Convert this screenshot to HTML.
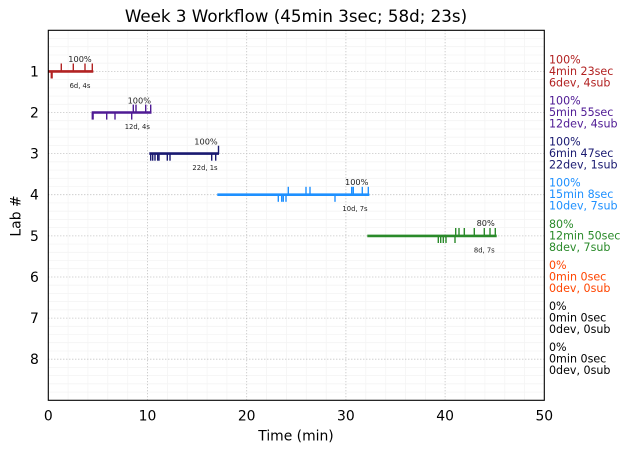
<!DOCTYPE html>
<html><head><meta charset="utf-8"><style>
html,body{margin:0;padding:0;background:#fff;}
svg{display:block;font-family:"DejaVu Sans","Liberation Sans",sans-serif;}
</style></head><body>
<svg width="630" height="453" viewBox="0 0 630 453" xmlns="http://www.w3.org/2000/svg">
<rect width="630" height="453" fill="#fff"/>
<!-- minor grid -->
<g stroke="#f4f4f4" stroke-width="0.8">
<line x1="68.1" y1="30.3" x2="68.1" y2="400.3"/><line x1="87.9" y1="30.3" x2="87.9" y2="400.3"/><line x1="107.8" y1="30.3" x2="107.8" y2="400.3"/><line x1="127.7" y1="30.3" x2="127.7" y2="400.3"/>
<line x1="167.4" y1="30.3" x2="167.4" y2="400.3"/><line x1="187.2" y1="30.3" x2="187.2" y2="400.3"/><line x1="207.1" y1="30.3" x2="207.1" y2="400.3"/><line x1="226.9" y1="30.3" x2="226.9" y2="400.3"/>
<line x1="266.6" y1="30.3" x2="266.6" y2="400.3"/><line x1="286.4" y1="30.3" x2="286.4" y2="400.3"/><line x1="306.3" y1="30.3" x2="306.3" y2="400.3"/><line x1="326.2" y1="30.3" x2="326.2" y2="400.3"/>
<line x1="365.8" y1="30.3" x2="365.8" y2="400.3"/><line x1="385.7" y1="30.3" x2="385.7" y2="400.3"/><line x1="405.5" y1="30.3" x2="405.5" y2="400.3"/><line x1="425.4" y1="30.3" x2="425.4" y2="400.3"/>
<line x1="465.1" y1="30.3" x2="465.1" y2="400.3"/><line x1="484.9" y1="30.3" x2="484.9" y2="400.3"/><line x1="504.8" y1="30.3" x2="504.8" y2="400.3"/><line x1="524.6" y1="30.3" x2="524.6" y2="400.3"/>
</g>
<g stroke="#f4f4f4" stroke-width="0.8">
<line x1="48.3" x2="544.3" y1="38.5" y2="38.5"/><line x1="48.3" x2="544.3" y1="46.7" y2="46.7"/><line x1="48.3" x2="544.3" y1="55.0" y2="55.0"/><line x1="48.3" x2="544.3" y1="63.2" y2="63.2"/>
<line x1="48.3" x2="544.3" y1="79.6" y2="79.6"/><line x1="48.3" x2="544.3" y1="87.9" y2="87.9"/><line x1="48.3" x2="544.3" y1="96.1" y2="96.1"/><line x1="48.3" x2="544.3" y1="104.3" y2="104.3"/>
<line x1="48.3" x2="544.3" y1="120.7" y2="120.7"/><line x1="48.3" x2="544.3" y1="129.0" y2="129.0"/><line x1="48.3" x2="544.3" y1="137.2" y2="137.2"/><line x1="48.3" x2="544.3" y1="145.4" y2="145.4"/>
<line x1="48.3" x2="544.3" y1="161.8" y2="161.8"/><line x1="48.3" x2="544.3" y1="170.1" y2="170.1"/><line x1="48.3" x2="544.3" y1="178.3" y2="178.3"/><line x1="48.3" x2="544.3" y1="186.5" y2="186.5"/>
<line x1="48.3" x2="544.3" y1="202.9" y2="202.9"/><line x1="48.3" x2="544.3" y1="211.2" y2="211.2"/><line x1="48.3" x2="544.3" y1="219.4" y2="219.4"/><line x1="48.3" x2="544.3" y1="227.6" y2="227.6"/>
<line x1="48.3" x2="544.3" y1="244.1" y2="244.1"/><line x1="48.3" x2="544.3" y1="252.3" y2="252.3"/><line x1="48.3" x2="544.3" y1="260.5" y2="260.5"/><line x1="48.3" x2="544.3" y1="268.7" y2="268.7"/>
<line x1="48.3" x2="544.3" y1="285.2" y2="285.2"/><line x1="48.3" x2="544.3" y1="293.4" y2="293.4"/><line x1="48.3" x2="544.3" y1="301.6" y2="301.6"/><line x1="48.3" x2="544.3" y1="309.8" y2="309.8"/>
<line x1="48.3" x2="544.3" y1="326.3" y2="326.3"/><line x1="48.3" x2="544.3" y1="334.5" y2="334.5"/><line x1="48.3" x2="544.3" y1="342.7" y2="342.7"/><line x1="48.3" x2="544.3" y1="351.0" y2="351.0"/>
<line x1="48.3" x2="544.3" y1="367.4" y2="367.4"/><line x1="48.3" x2="544.3" y1="375.6" y2="375.6"/><line x1="48.3" x2="544.3" y1="383.8" y2="383.8"/><line x1="48.3" x2="544.3" y1="392.1" y2="392.1"/>
</g>
<!-- major grid -->
<g stroke="#b0b0b0" stroke-width="0.8" stroke-dasharray="1,2">
<line x1="147.5" y1="30.3" x2="147.5" y2="400.3"/><line x1="246.7" y1="30.3" x2="246.7" y2="400.3"/><line x1="345.9" y1="30.3" x2="345.9" y2="400.3"/><line x1="445.1" y1="30.3" x2="445.1" y2="400.3"/>
<line x1="48.3" x2="544.3" y1="71.4" y2="71.4"/><line x1="48.3" x2="544.3" y1="112.5" y2="112.5"/><line x1="48.3" x2="544.3" y1="153.6" y2="153.6"/><line x1="48.3" x2="544.3" y1="194.7" y2="194.7"/>
<line x1="48.3" x2="544.3" y1="235.9" y2="235.9"/><line x1="48.3" x2="544.3" y1="277.0" y2="277.0"/><line x1="48.3" x2="544.3" y1="318.1" y2="318.1"/><line x1="48.3" x2="544.3" y1="359.2" y2="359.2"/>
</g>

<!-- Lab 1 -->
<g stroke="#b22222" fill="none">
<line x1="48.3" y1="71.4" x2="93.3" y2="71.4" stroke-width="2.6"/>
<g stroke-width="1.4">
<line x1="61.3" y1="63.5" x2="61.3" y2="71.4"/><line x1="73.3" y1="63.5" x2="73.3" y2="71.4"/><line x1="85" y1="63.5" x2="85" y2="71.4"/><line x1="92.3" y1="63.5" x2="92.3" y2="71.4"/>
<line x1="51.7" y1="71.4" x2="51.7" y2="78.5" stroke-width="2.2"/>
</g></g>
<!-- Lab 2 -->
<g stroke="#4f1a94" fill="none">
<line x1="91.7" y1="112.5" x2="151.5" y2="112.5" stroke-width="2.6"/>
<g stroke-width="1.4">
<line x1="133.3" y1="104.6" x2="133.3" y2="112.5"/><line x1="136" y1="104.6" x2="136" y2="112.5"/><line x1="145.7" y1="104.6" x2="145.7" y2="112.5"/><line x1="150.7" y1="104.6" x2="150.7" y2="112.5"/>
<line x1="92.7" y1="112.5" x2="92.7" y2="119.6" stroke-width="2.2"/><line x1="106.7" y1="112.5" x2="106.7" y2="119.6"/><line x1="115" y1="112.5" x2="115" y2="119.6"/><line x1="131.7" y1="112.5" x2="131.7" y2="119.6"/>
</g></g>
<!-- Lab 3 -->
<g stroke="#191970" fill="none">
<line x1="149.3" y1="153.6" x2="219" y2="153.6" stroke-width="2.6"/>
<g stroke-width="1.4">
<line x1="218.5" y1="145.7" x2="218.5" y2="153.6"/>
<line x1="150.7" y1="153.6" x2="150.7" y2="160.7"/><line x1="152.7" y1="153.6" x2="152.7" y2="160.7"/><line x1="155" y1="153.6" x2="155" y2="160.7"/><line x1="157.7" y1="153.6" x2="157.7" y2="160.7"/><line x1="159" y1="153.6" x2="159" y2="160.7"/>
<line x1="167.3" y1="153.6" x2="167.3" y2="160.7"/><line x1="170" y1="153.6" x2="170" y2="160.7"/><line x1="211.7" y1="153.6" x2="211.7" y2="160.7"/><line x1="215.7" y1="153.6" x2="215.7" y2="160.7"/>
</g></g>
<!-- Lab 4 -->
<g stroke="#1e90ff" fill="none">
<line x1="217.3" y1="194.7" x2="369.3" y2="194.7" stroke-width="2.6"/>
<g stroke-width="1.4">
<line x1="288.3" y1="186.8" x2="288.3" y2="194.7"/><line x1="306" y1="186.8" x2="306" y2="194.7"/><line x1="310" y1="186.8" x2="310" y2="194.7"/><line x1="351.7" y1="186.8" x2="351.7" y2="194.7"/><line x1="353.3" y1="186.8" x2="353.3" y2="194.7"/><line x1="362.3" y1="186.8" x2="362.3" y2="194.7"/><line x1="368.3" y1="186.8" x2="368.3" y2="194.7"/>
<line x1="278.3" y1="194.7" x2="278.3" y2="201.8"/><line x1="281.7" y1="194.7" x2="281.7" y2="201.8"/><line x1="283.3" y1="194.7" x2="283.3" y2="201.8"/><line x1="286" y1="194.7" x2="286" y2="201.8"/><line x1="335" y1="194.7" x2="335" y2="201.8"/>
</g></g>
<!-- Lab 5 -->
<g stroke="#2a8a2a" fill="none">
<line x1="367.3" y1="235.9" x2="496.7" y2="235.9" stroke-width="2.6"/>
<g stroke-width="1.4">
<line x1="455.7" y1="228" x2="455.7" y2="235.9"/><line x1="459" y1="228" x2="459" y2="235.9"/><line x1="464.3" y1="228" x2="464.3" y2="235.9"/><line x1="474.3" y1="228" x2="474.3" y2="235.9"/><line x1="484.3" y1="228" x2="484.3" y2="235.9"/><line x1="490" y1="228" x2="490" y2="235.9"/><line x1="495.3" y1="228" x2="495.3" y2="235.9"/>
<line x1="438.3" y1="235.9" x2="438.3" y2="243"/><line x1="440.7" y1="235.9" x2="440.7" y2="243"/><line x1="443.3" y1="235.9" x2="443.3" y2="243"/><line x1="446" y1="235.9" x2="446" y2="243"/><line x1="455" y1="235.9" x2="455" y2="243"/>
</g></g>

<!-- annotations -->
<g fill="#222" text-anchor="middle">
<text x="80" y="62.2" font-size="8.2">100%</text>
<text x="80" y="87.8" font-size="6.8">6d, 4s</text>
<text x="139.3" y="103.5" font-size="8.2">100%</text>
<text x="137.3" y="129.2" font-size="6.8">12d, 4s</text>
<text x="206" y="144.6" font-size="8.2">100%</text>
<text x="205" y="170.2" font-size="6.8">22d, 1s</text>
<text x="356.7" y="185.2" font-size="8.2">100%</text>
<text x="355" y="211.2" font-size="6.8">10d, 7s</text>
<text x="485.7" y="226.2" font-size="8.2">80%</text>
<text x="484.3" y="252.6" font-size="6.8">8d, 7s</text>
</g>

<!-- frame -->
<rect x="48.3" y="30.3" width="496" height="370" fill="none" stroke="#000" stroke-width="1.1"/>

<!-- tick labels -->
<g font-size="13.9" fill="#000" text-anchor="end">
<text x="38.8" y="76.4">1</text><text x="38.8" y="117.5">2</text><text x="38.8" y="158.6">3</text><text x="38.8" y="199.7">4</text>
<text x="38.8" y="240.9">5</text><text x="38.8" y="282">6</text><text x="38.8" y="323.1">7</text><text x="38.8" y="364.2">8</text>
</g>
<g font-size="13.9" fill="#000" text-anchor="middle">
<text x="48.3" y="420.7">0</text><text x="147.5" y="420.7">10</text><text x="246.7" y="420.7">20</text><text x="345.9" y="420.7">30</text><text x="445.1" y="420.7">40</text><text x="544.3" y="420.7">50</text>
</g>
<text x="296" y="440.5" font-size="13.9" text-anchor="middle">Time (min)</text>
<text transform="translate(20.5,216) rotate(-90)" font-size="13.9" text-anchor="middle">Lab #</text>
<text x="296" y="22" font-size="16.7" text-anchor="middle">Week 3 Workflow (45min 3sec; 58d; 23s)</text>

<!-- right texts -->
<g font-size="11.1">
<g fill="#b22222"><text x="549" y="63.3">100%</text><text x="549" y="74.8">4min 23sec</text><text x="549" y="86.4">6dev, 4sub</text></g>
<g fill="#4f1a94"><text x="549" y="104.4">100%</text><text x="549" y="115.9">5min 55sec</text><text x="549" y="127.5">12dev, 4sub</text></g>
<g fill="#191970"><text x="549" y="145.5">100%</text><text x="549" y="157">6min 47sec</text><text x="549" y="168.6">22dev, 1sub</text></g>
<g fill="#1e90ff"><text x="549" y="186.6">100%</text><text x="549" y="198.1">15min 8sec</text><text x="549" y="209.7">10dev, 7sub</text></g>
<g fill="#2a8a2a"><text x="549" y="227.8">80%</text><text x="549" y="239.3">12min 50sec</text><text x="549" y="250.9">8dev, 7sub</text></g>
<g fill="#ff4500"><text x="549" y="268.9">0%</text><text x="549" y="280.4">0min 0sec</text><text x="549" y="292">0dev, 0sub</text></g>
<g fill="#000"><text x="549" y="310">0%</text><text x="549" y="321.5">0min 0sec</text><text x="549" y="333.1">0dev, 0sub</text></g>
<g fill="#000"><text x="549" y="351.1">0%</text><text x="549" y="362.6">0min 0sec</text><text x="549" y="374.2">0dev, 0sub</text></g>
</g>
</svg>
</body></html>
